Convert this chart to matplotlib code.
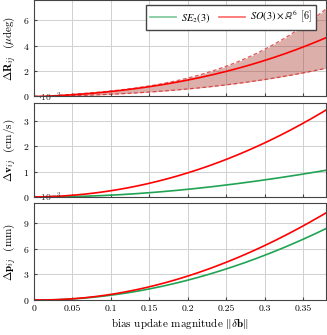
import numpy as np
import matplotlib
matplotlib.use('Agg')
import matplotlib.pyplot as plt
from matplotlib.lines import Line2D

plt.rcParams['font.family'] = 'cmr10'
plt.rcParams['mathtext.fontset'] = 'cm'
plt.rcParams['axes.formatter.use_mathtext'] = True

# bias update magnitude
x = [0.0, 0.05, 0.1, 0.15, 0.2, 0.25, 0.3, 0.35, 0.38]

# rotation error (x1e-3 deg), SO(3)xR6 mean and band
rot_mean = [0.0, 0.1, 0.38, 0.78, 1.34, 1.98, 2.78, 3.9, 4.64]
rot_up = [0.0, 0.1, 0.4, 0.85, 1.5, 2.45, 3.65, 5.4, 7.0]
rot_lo = [0.0, 0.04, 0.17, 0.35, 0.6, 0.94, 1.3, 1.84, 2.24]

# velocity error (x1e-3 cm/s)
vel_so3 = [0.0, 0.07, 0.25, 0.53, 0.95, 1.48, 2.1, 2.93, 3.4]
vel_se23 = [0.0, 0.02, 0.08, 0.16, 0.3, 0.46, 0.68, 0.91, 1.04]

# position error (x1e-3 mm)
pos_so3 = [0.0, 0.2, 0.7, 1.5, 2.8, 4.38, 6.35, 8.7, 10.1]
pos_se23 = [0.0, 0.15, 0.6, 1.3, 2.3, 3.6, 5.25, 7.1, 8.3]

xticks = [0, 0.05, 0.1, 0.15, 0.2, 0.25, 0.3, 0.35]
xticklabels = ['0', '0.05', '0.1', '0.15', '0.2', '0.25', '0.3', '0.35']

green = '#21a354'
red = '#ff0000'

# smooth through the read points
xs = np.linspace(0, 0.38, 200)
def smooth(y):
    c = np.polyfit(x, y, 3)
    return np.clip(np.polyval(c, xs), 0, None)

fig = plt.figure(figsize=(3.27, 3.35), dpi=100)
ax1 = fig.add_axes([0.104, 0.712, 0.893, 0.288])
ax2 = fig.add_axes([0.104, 0.412, 0.893, 0.281])
ax3 = fig.add_axes([0.104, 0.104, 0.893, 0.290])

ax1.fill_between(xs, smooth(rot_lo), smooth(rot_up), color='#a8382c', alpha=0.4, lw=0)
ax1.plot(xs, smooth(rot_up), '--', color='#d82020', lw=0.9, alpha=0.75, dashes=(3, 2))
ax1.plot(xs, smooth(rot_lo), '--', color='#d82020', lw=0.9, alpha=0.75, dashes=(3, 2))
ax1.plot(xs, smooth(rot_mean), color=red, lw=1.2)
ax1.set_ylim(0, 7.6)
ax1.set_yticks([0, 2, 4, 6])
ax1.set_ylabel(r'$\Delta\mathbf{R}_{ij}$  ($\mu$deg)', fontsize=8)

ax2.plot(xs, smooth(vel_se23), color=green, lw=1.2)
ax2.plot(xs, smooth(vel_so3), color=red, lw=1.2)
ax2.set_ylim(0, 3.7)
ax2.set_yticks([0, 1, 2, 3])
ax2.set_ylabel(r'$\Delta\mathbf{v}_{ij}$  (cm/s)', fontsize=8)

ax3.plot(xs, smooth(pos_se23), color=green, lw=1.2)
ax3.plot(xs, smooth(pos_so3), color=red, lw=1.2)
ax3.set_ylim(0, 11.3)
ax3.set_yticks([0, 3, 6, 9])
ax3.set_ylabel(r'$\Delta\mathbf{p}_{ij}$  (mm)', fontsize=8)
ax3.set_xlabel(r'bias update magnitude $\|\delta\mathbf{b}\|$', fontsize=8, labelpad=2)

for ax in (ax1, ax2, ax3):
    ax.set_xlim(0, 0.38)
    ax.set_xticks(xticks)
    ax.grid(True, color='#d0d0d0', lw=0.7)
    ax.set_axisbelow(True)
    ax.tick_params(labelsize=7, length=2, direction='in', color='#444444')
    for s in ax.spines.values():
        s.set_color('#444444')
        s.set_linewidth(0.8)
    ax.yaxis.set_label_coords(-0.055, 0.5)
ax1.set_xticklabels([])
ax2.set_xticklabels([])
ax3.set_xticklabels(xticklabels)

for ax in (ax2, ax3):
    ax.text(0.015, 1.055, r'$\cdot 10^{-3}$', transform=ax.transAxes, fontsize=7,
            va='center', ha='left', color='#333333')

handles = [Line2D([], [], color=green, lw=1.2, alpha=0.6),
           Line2D([], [], color=red, lw=1.2, alpha=0.6)]
leg = ax1.legend(handles, [r'$SE_2(3)$', r'$SO(3)\times\mathbb{R}^6$ [6]'], ncol=2,
                 loc='upper right', bbox_to_anchor=(0.985, 1.0), fontsize=7.5,
                 frameon=True, fancybox=False, edgecolor='#444444', framealpha=1,
                 handlelength=2.5, columnspacing=0.8, borderpad=0.4, handletextpad=0.5)
leg.get_texts()[1].set_math_fontfamily('stix')
leg.get_texts()[0].set_math_fontfamily('stix')

fig.savefig('out.png', dpi=100)
